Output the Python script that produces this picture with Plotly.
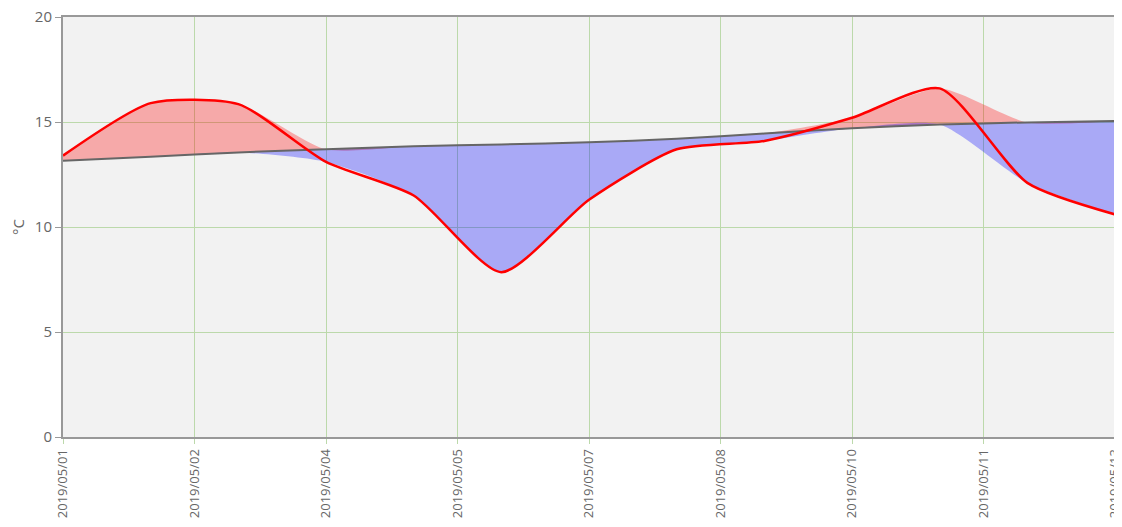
import plotly.graph_objects as go

dates = ["2019-05-01", "2019-05-02", "2019-05-03", "2019-05-04", "2019-05-05",
         "2019-05-06", "2019-05-07", "2019-05-08", "2019-05-09", "2019-05-10",
         "2019-05-11", "2019-05-12", "2019-05-13"]
temp = [13.4, 15.9, 15.85, 13.1, 11.5, 7.85, 11.3, 13.7, 14.1, 15.2, 16.6, 12.1, 10.6]
normal = [13.15, 13.35, 13.55, 13.7, 13.85, 13.93, 14.03, 14.2, 14.45, 14.7, 14.88, 14.98, 15.05]

upper = [max(t, n) for t, n in zip(temp, normal)]
lower = [min(t, n) for t, n in zip(temp, normal)]

spl = dict(shape="spline", smoothing=0.65)
fig = go.Figure()
fig.add_trace(go.Scatter(x=dates, y=normal, mode="lines", line=dict(width=0, **spl), hoverinfo="skip", showlegend=False))
fig.add_trace(go.Scatter(x=dates, y=upper, mode="lines", line=dict(width=0, **spl), fill="tonexty",
                         fillcolor="rgba(255,0,0,0.3)", hoverinfo="skip", showlegend=False))
fig.add_trace(go.Scatter(x=dates, y=normal, mode="lines", line=dict(width=0, **spl), hoverinfo="skip", showlegend=False))
fig.add_trace(go.Scatter(x=dates, y=lower, mode="lines", line=dict(width=0, **spl), fill="tonexty",
                         fillcolor="rgba(0,0,255,0.3)", hoverinfo="skip", showlegend=False))
fig.add_trace(go.Scatter(x=dates, y=normal, mode="lines", line=dict(color="#666666", width=2, **spl),
                         name="平年値", showlegend=False))
fig.add_trace(go.Scatter(x=dates, y=temp, mode="lines", line=dict(color="#ff0000", width=2.5, **spl),
                         name="気温", showlegend=False))

fig.update_layout(
    width=1122, height=519,
    margin=dict(l=55, r=15, t=9, b=90),
    paper_bgcolor="white", plot_bgcolor="#f2f2f2",
    font=dict(family="Open Sans", color="#666666"),
)
fig.update_xaxes(
    type="date", range=["2019-05-01", "2019-05-13"], automargin=False,
    tick0="2019-05-01", dtick=1.5 * 86400000, tickformat="%Y/%m/%d",
    tickangle=-90, tickfont=dict(size=13, color="#666666"), ticklabeloverflow="allow",
    showgrid=True, gridcolor="#bcd9ab", gridwidth=1,
    showline=True, linecolor="#999999", linewidth=2, mirror=True,
    ticks="outside", ticklen=5, tickcolor="#bcd9ab", zeroline=False,
)
fig.update_yaxes(
    range=[0, 20], dtick=5, automargin=False, tickfont=dict(size=15, color="#666666"),
    ticklabeloverflow="allow",
    showgrid=True, gridcolor="#bcd9ab", gridwidth=1,
    showline=True, linecolor="#999999", linewidth=2, mirror=True,
    ticks="outside", ticklen=6, tickcolor="#999999", zeroline=False,
    title=dict(text="°C", font=dict(size=15, color="#666666"), standoff=14),
)
fig.write_html("out.html")
